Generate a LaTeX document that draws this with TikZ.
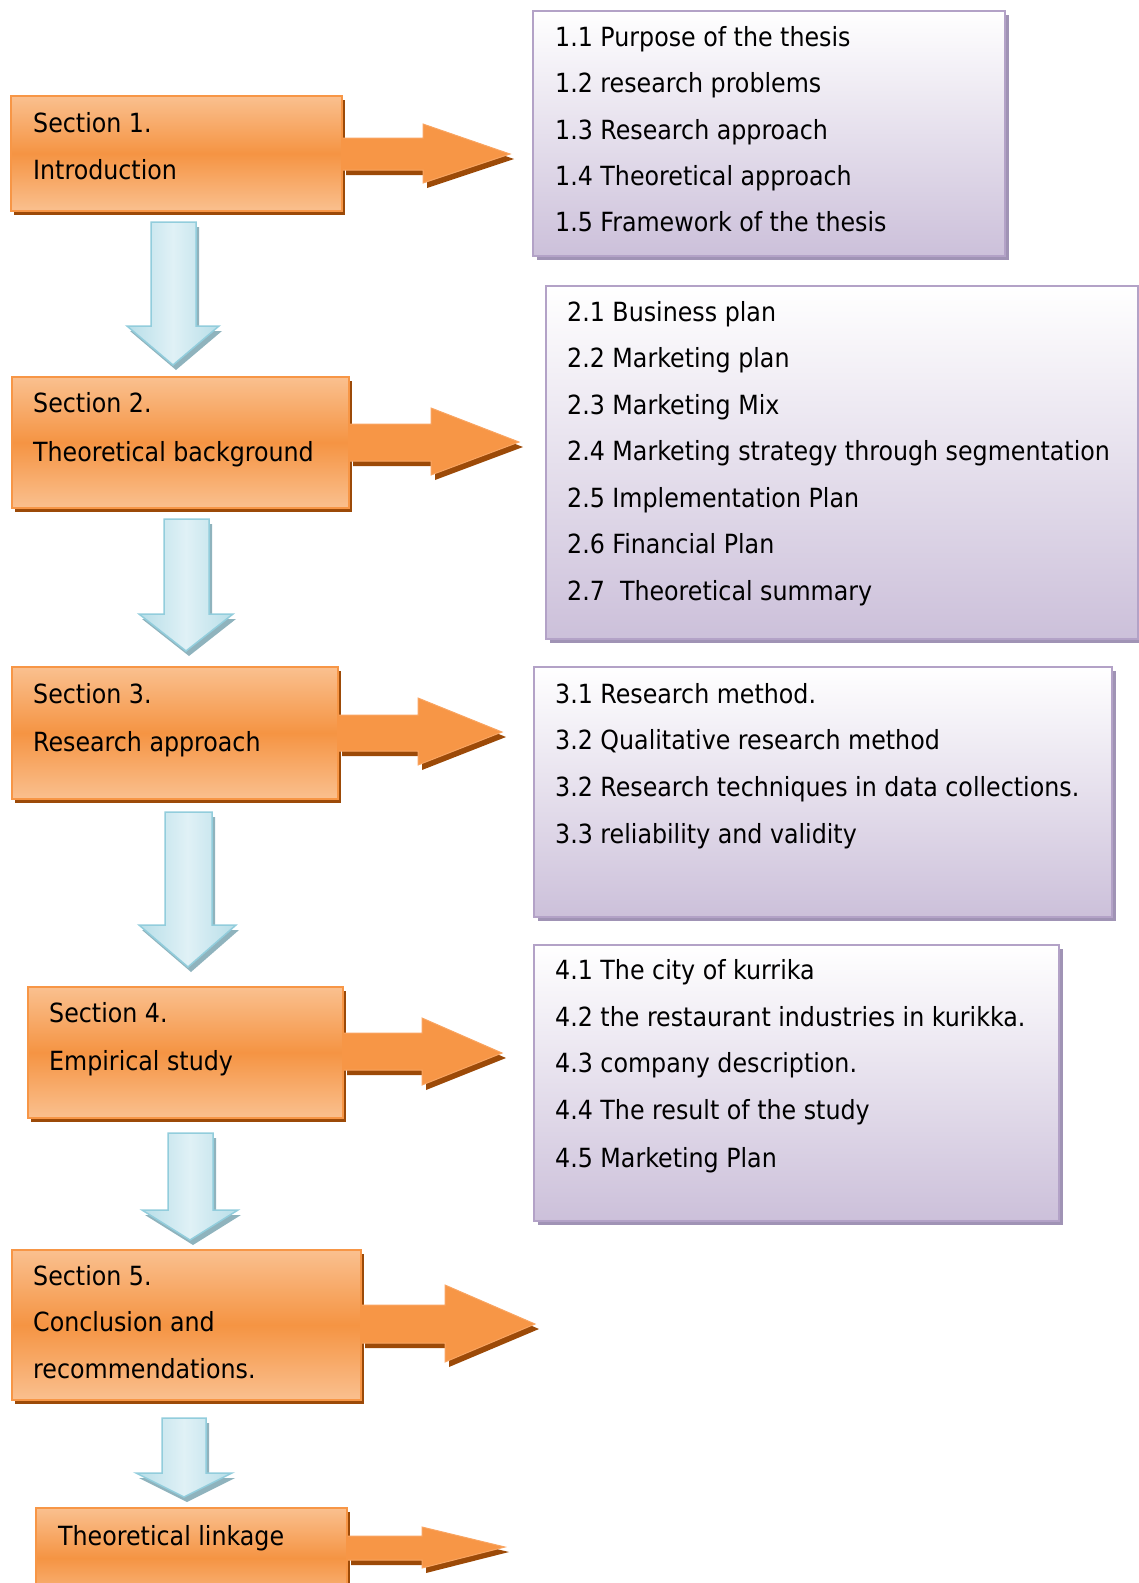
\documentclass[tikz,border=0pt]{standalone}
\usepackage{fontspec}
\IfFontExistsTF{DejaVu Sans Condensed}{\setmainfont{DejaVu Sans Condensed}}{\setmainfont{DejaVu Sans}[FakeStretch=0.9]}
\usetikzlibrary{shadows}
\definecolor{orMain}{HTML}{F79646}
\definecolor{orLight}{HTML}{FAC08F}
\definecolor{orMid}{HTML}{F59443}
\definecolor{orDark}{HTML}{9C4A08}
\definecolor{orEdge}{HTML}{F9A562}
\definecolor{puLine}{HTML}{B3A2C7}
\definecolor{puFill}{HTML}{CCC0DA}
\definecolor{puShadow}{HTML}{A093B5}
\definecolor{blLine}{HTML}{92CDDC}
\definecolor{blDark}{HTML}{B7DEE8}
\definecolor{blLight}{HTML}{E0F1F6}
\definecolor{blShadow}{HTML}{8FB3BD}
\tikzset{
 obox/.style={rectangle, draw=orMain, line width=1.5pt, top color=orLight, bottom color=orLight, middle color=orMid,
   general shadow={fill=orDark, shadow xshift=3pt, shadow yshift=-4pt}, inner sep=0pt, outer sep=0pt, anchor=north west},
 pbox/.style={rectangle, draw=puLine, line width=2pt, top color=white, bottom color=puFill,
   general shadow={fill=puShadow, shadow xshift=4pt, shadow yshift=-4pt}, inner sep=0pt, outer sep=0pt, anchor=north west},
 txt/.style={anchor=base west, inner sep=0pt, font=\fontsize{26.4}{32}\selectfont},
 oarrfill/.style={fill=orMain},
 oarredge/.style={draw=orEdge, line width=1pt, line join=miter},
 oarrshadow/.style={fill=orDark},
 barr/.style={draw=blLine, line width=1.5pt, left color=blDark, right color=blDark, middle color=blLight, line join=miter},
 barrshadow/.style={fill=blShadow},
}
% orange block arrow: x0, shaft top, shaft bottom, head x, head top, head bottom, tip x, tip y
\newcommand\orarrow[8]{%
 \fill[oarrshadow, shift={(4pt,-5pt)}] (#1,#2) -- (#4,#2) -- (#4,#5) -- (#7,#8) -- (#4,#6) -- (#4,#3) -- (#1,#3) -- cycle;
 \fill[oarrfill] (#1,#2) -- (#4,#2) -- (#4,#5) -- (#7,#8) -- (#4,#6) -- (#4,#3) -- (#1,#3) -- cycle;
 \draw[oarredge] (#1+1,#2) -- (#4,#2) -- (#4,#5) -- (#7,#8) -- (#4,#6) -- (#4,#3) -- (#1+1,#3);
}
% blue block arrow: shaft left, shaft right, top, head y, head left, head right, tip x, tip y
\newcommand\blarrow[8]{%
 \fill[barrshadow, shift={(3pt,-5pt)}] (#1,#3) -- (#2,#3) -- (#2,#4) -- (#6,#4) -- (#7,#8) -- (#5,#4) -- (#1,#4) -- cycle;
 \draw[barr] (#1,#3) -- (#2,#3) -- (#2,#4) -- (#6,#4) -- (#7,#8) -- (#5,#4) -- (#1,#4) -- cycle;
}
\begin{document}
\begin{tikzpicture}[x=1pt,y=-1pt]
\useasboundingbox (0,0) rectangle (1139,1583);
\clip (0,0) rectangle (1139,1583);

% purple content boxes
\node[pbox, minimum width=472pt, minimum height=245pt] (p1) at (533,11) {};
\node[pbox, minimum width=592pt, minimum height=353pt] (p2) at (546,286) {};
\node[pbox, minimum width=578pt, minimum height=250pt] (p3) at (534,667) {};
\node[pbox, minimum width=525pt, minimum height=276pt] (p4) at (534,945) {};

\node[txt] (p1a) at (555,46)  {1.1 Purpose of the thesis};
\node[txt] (p1b) at (555,92)  {1.2 research problems};
\node[txt] (p1c) at (555,139) {1.3 Research approach};
\node[txt] (p1d) at (555,185) {1.4 Theoretical approach};
\node[txt] (p1e) at (555,231) {1.5 Framework of the thesis};

\node[txt] (p2a) at (567,321) {2.1 Business plan};
\node[txt] (p2b) at (567,367) {2.2 Marketing plan};
\node[txt] (p2c) at (567,414) {2.3 Marketing Mix};
\node[txt] (p2d) at (567,460) {2.4 Marketing strategy through segmentation};
\node[txt] (p2e) at (567,507) {2.5 Implementation Plan};
\node[txt] (p2f) at (567,553) {2.6 Financial Plan};
\node[txt] (p2g) at (567,600) {2.7\ \ Theoretical summary};

\node[txt] (p3a) at (555,703) {3.1 Research method.};
\node[txt] (p3b) at (555,749) {3.2 Qualitative research method};
\node[txt] (p3c) at (555,796) {3.2 Research techniques in data collections.};
\node[txt] (p3d) at (555,843) {3.3 reliability and validity};

\node[txt] (p4a) at (555,979)  {4.1 The city of kurrika};
\node[txt] (p4b) at (555,1026) {4.2 the restaurant industries in kurikka.};
\node[txt] (p4c) at (555,1072) {4.3 company description.};
\node[txt] (p4d) at (555,1119) {4.4 The result of the study};
\node[txt] (p4e) at (555,1167) {4.5 Marketing Plan};

% orange section boxes
\node[obox, minimum width=331pt, minimum height=115pt] (s1) at (11,96) {};
\node[obox, minimum width=337pt, minimum height=131pt] (s2) at (12,377) {};
\node[obox, minimum width=326pt, minimum height=132pt] (s3) at (12,667) {};
\node[obox, minimum width=315pt, minimum height=131pt] (s4) at (28,987) {};
\node[obox, minimum width=349pt, minimum height=150pt] (s5) at (12,1250) {};
\node[obox, minimum width=311pt, minimum height=100pt] (s6) at (36,1508) {};

% orange arrows
\orarrow{342}{138}{170}{423}{124}{183}{510}{154}
\orarrow{349}{424}{461}{431}{408}{475}{519}{442}
\orarrow{338}{715}{751}{418}{698}{765}{502}{732}
\orarrow{343}{1033}{1070}{422}{1018}{1085}{502}{1053}
\orarrow{361}{1305}{1343}{445}{1285}{1362}{535}{1324}
\orarrow{347}{1536}{1560}{422}{1527}{1568}{505}{1547}

% blue down arrows
\blarrow{151}{196}{222}{326}{127}{219}{173}{365}
\blarrow{164}{209}{519}{614}{139}{233}{186}{651}
\blarrow{165}{212}{812}{925}{139}{236}{188}{967}
\blarrow{168}{213}{1133}{1210}{142}{238}{190}{1240}
\blarrow{162}{206}{1418}{1473}{136}{232}{184}{1497}

% section texts
\node[txt] (t1a) at (33,132) {Section 1.};
\node[txt] (t1b) at (33,179) {Introduction};
\node[txt] (t2a) at (33,412) {Section 2.};
\node[txt] (t2b) at (33,461) {Theoretical background};
\node[txt] (t3a) at (33,703) {Section 3.};
\node[txt] (t3b) at (33,751) {Research approach};
\node[txt] (t4a) at (49,1022) {Section 4.};
\node[txt] (t4b) at (49,1070) {Empirical study};
\node[txt] (t5a) at (33,1285) {Section 5.};
\node[txt] (t5b) at (33,1331) {Conclusion and};
\node[txt] (t5c) at (33,1378) {recommendations.};
\node[txt] (t6a) at (58,1545) {Theoretical linkage};
\end{tikzpicture}
\end{document}
